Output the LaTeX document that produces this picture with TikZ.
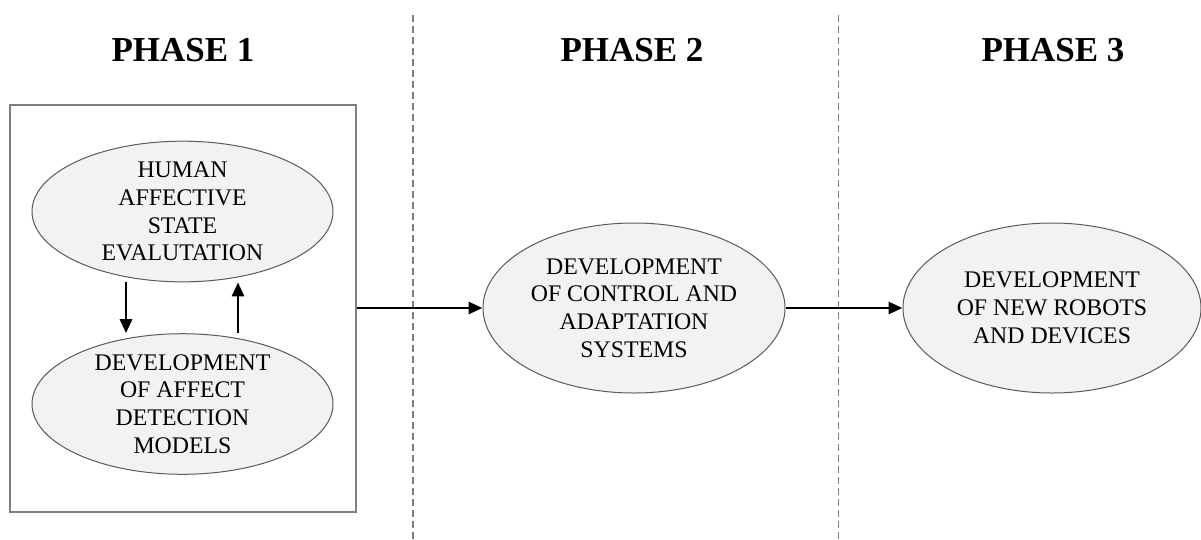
\documentclass[tikz,border=0pt]{standalone}
\usepackage{fontspec}
\setmainfont{Liberation Serif}
\usetikzlibrary{shapes.geometric,arrows.meta}
\definecolor{efill}{HTML}{F2F2F2}
\definecolor{edraw}{HTML}{5A5A5A}
\definecolor{gline}{HTML}{7F7F7F}
\begin{document}
\begin{tikzpicture}[x=1pt,y=-1pt,
  phase/.style={font=\fontsize{35}{40}\selectfont\bfseries, inner sep=0pt},
  bubble/.style={ellipse, draw=edraw, line width=1pt, fill=efill, inner sep=0pt, align=center,
     font=\fontsize{23.8}{27.8}\selectfont},
  arr/.style={line width=2.8pt, -{Triangle[length=14pt,width=12pt]}},
  divider/.style={gline, line width=1.1pt, dash pattern=on 7pt off 4pt}]
\useasboundingbox (0,0) rectangle (1201,539);
\fill[white] (0,0) rectangle (1201,539);

\node[phase] (p1) at (183,50) {PHASE 1};
\node[phase] (p2) at (632,50) {PHASE 2};
\node[phase] (p3) at (1053,50) {PHASE 3};

\coordinate (d1t) at (413,15); \coordinate (d1b) at (413,539);
\coordinate (d2t) at (838.5,15); \coordinate (d2b) at (838.5,539);
\draw[divider] (d1t) -- (d1b);
\draw[divider] (d2t) -- (d2b);

\node[draw=gline, line width=1.2pt, minimum width=346pt, minimum height=407pt, inner sep=0pt] (box) at (183,308.5) {};

\node[bubble, minimum width=301pt, minimum height=137pt] (e1) at (182.5,211.5)
  {HUMAN\\AFFECTIVE\\STATE\\EVALUTATION};
\node[bubble, minimum width=301pt, minimum height=138pt] (e2) at (182.5,404)
  {DEVELOPMENT\\OF AFFECT\\DETECTION\\MODELS};
\node[bubble, minimum width=302pt, minimum height=170pt] (e3) at (634,308)
  {DEVELOPMENT\\OF CONTROL AND\\ADAPTATION\\SYSTEMS};
\node[bubble, minimum width=298pt, minimum height=170pt] (e4) at (1052,308)
  {DEVELOPMENT\\OF NEW ROBOTS\\AND DEVICES};

\draw[arr] ([xshift=-56.5pt]e1.south) -- ([xshift=-56.5pt]e2.north);
\draw[arr] ([xshift=55.5pt]e2.north) -- ([xshift=55.5pt]e1.south);
\draw[arr] (box.east |- e3.west) -- (e3.west);
\draw[arr] (e3.east) -- (e4.west);
\end{tikzpicture}
\end{document}
